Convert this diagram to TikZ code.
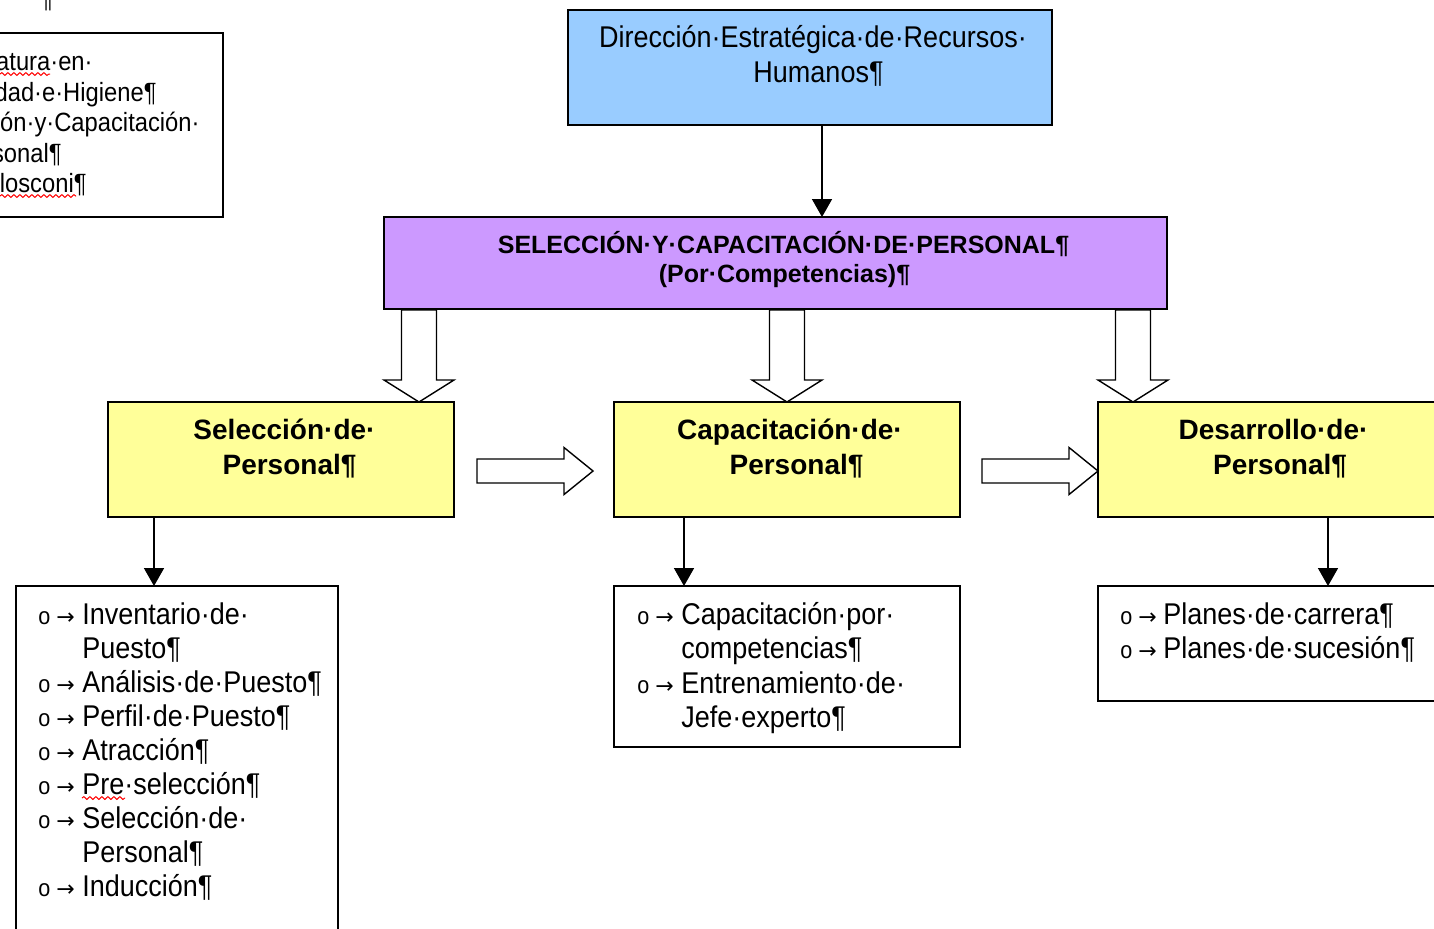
\documentclass[tikz,border=0pt]{standalone}
\usepackage{fontspec}
\setmainfont{Liberation Sans}
\newfontfamily\rf{Liberation Sans}[FakeStretch=0.9]
\newfontfamily\hf{Liberation Sans}
\newfontfamily\af{DejaVu Sans}
\usetikzlibrary{arrows.meta,decorations.pathmorphing}
\definecolor{bluef}{HTML}{99CCFF}
\definecolor{purpf}{HTML}{CC99FF}
\definecolor{yelf}{HTML}{FFFF99}
\tikzset{
  box/.style={draw=black, line width=0.8pt, inner sep=0pt, outer sep=0pt, anchor=north west},
  conn/.style={draw=black, line width=0.8pt, -{Triangle[width=10pt,length=9pt]}},
  blk/.style={draw=black, line width=0.7pt, fill=white, line join=miter},
  tx/.style={inner sep=0pt, font=\rf\fontsize{15}{18}\selectfont},
  smt/.style={inner sep=0pt, font=\rf\fontsize{13.2}{15}\selectfont, anchor=base east},
  hd/.style={inner sep=0pt, anchor=base, font=\hf\bfseries\fontsize{14}{17}\selectfont},
  ph/.style={inner sep=0pt, anchor=base, font=\hf\bfseries\fontsize{12.5}{15}\selectfont},
  bul/.style={inner sep=0pt, anchor=base west, font=\rf\fontsize{12}{14}\selectfont},
  tab/.style={inner sep=0pt, anchor=base west, font=\af\fontsize{11}{13}\selectfont},
  spell/.style={draw=red, line width=0.5pt, decorate, decoration={snake, amplitude=0.7pt, segment length=3pt}},
  downblk/.pic={\path[blk] (-17.5,-92) -- (-17.5,-22) -- (-35,-22) -- (0,0) -- (35,-22) -- (17.5,-22) -- (17.5,-92) -- cycle;},
  rightblk/.pic={\path[blk] (-116,-12) -- (-29,-12) -- (-29,-23.5) -- (0,0) -- (-29,23.5) -- (-29,12) -- (-116,12) -- cycle;}
}
\begin{document}
\begin{tikzpicture}[x=0.5pt,y=-0.5pt]
\useasboundingbox (0,0) rectangle (1434,928);
\clip (0,0) rectangle (1434,928);
\fill[white] (0,0) rectangle (1434,928);

% top-left partial box
\node[box, fill=white, minimum width=121.5pt, minimum height=92pt] (tl) at (-20,33) {};
\node[smt, anchor=south west] (pm) at (40,11) {¶};
\node[smt] (tl1) at (93,70.5) {atura·en·};
\node[smt] (tl2) at (157,101) {dad·e·Higiene¶};
\node[smt] (tl3) at (200,131.5) {ón·y·Capacitación·};
\node[smt] (tl4) at (62,162) {sonal¶};
\node[smt] (tl5) at (87,192.5) {losconi¶};
\draw[spell] (0,74) -- (50,74);
\draw[spell] (0,196) -- (76,196);

% main boxes
\node[box, fill=bluef, minimum width=242pt, minimum height=57.5pt] (dir) at (568,10) {};
\node[box, fill=purpf, minimum width=391.5pt, minimum height=46pt] (scp) at (384,217) {};
\node[box, fill=yelf, minimum width=173pt, minimum height=57.5pt] (y1) at (108,402) {};
\node[box, fill=yelf, minimum width=173pt, minimum height=57.5pt] (y2) at (614,402) {};
\node[box, fill=yelf, minimum width=180pt, minimum height=57.5pt] (y3) at (1098,402) {};
\node[box, fill=white, minimum width=161pt, minimum height=180pt] (l1) at (16,586) {};
\node[box, fill=white, minimum width=173pt, minimum height=80.5pt] (l2) at (614,586) {};
\node[box, fill=white, minimum width=180pt, minimum height=57.5pt] (l3) at (1098,586) {};

% texts
\node[tx, anchor=base] (d1) at (813,47) {Dirección·Estratégica·de·Recursos·};
\node[tx, anchor=base] (d2) at (818.5,82) {Humanos¶};
\node[ph] (s1) at (783.5,253) {SELECCIÓN·Y·CAPACITACIÓN·DE·PERSONAL¶};
\node[ph] (s2) at (784.5,282) {(Por·Competencias)¶};
\node[hd] (a1) at (284.5,439) {Selección·de·};
\node[hd] (a2) at (289.5,474) {Personal¶};
\node[hd] (b1) at (790,439) {Capacitación·de·};
\node[hd] (b2) at (796.5,474) {Personal¶};
\node[hd] (c1) at (1273.5,439) {Desarrollo·de·};
\node[hd] (c2) at (1280,474) {Personal¶};

% block arrows
\pic at ([xshift=155.5pt]y1.north west) {downblk};
\pic at (y2.north) {downblk};
\pic at ([xshift=17.5pt]y3.north west) {downblk};
\pic at ([shift={(-21,11.5)}]y2.west) {rightblk};
\pic at ([shift={(0,11.5)}]y3.west) {rightblk};

% connectors
\coordinate (x0) at (822,0);
\coordinate (x1) at (154,0);
\coordinate (x2) at (684,0);
\coordinate (x3) at (1328,0);
\draw[conn] (dir.south -| x0) -- (scp.north -| x0);
\draw[conn] (y1.south -| x1) -- (l1.north -| x1);
\draw[conn] (y2.south -| x2) -- (l2.north -| x2);
\draw[conn] (y3.south -| x3) -- (l3.north -| x3);

% list 1
\foreach \k/\t in {0/Inventario·de·, 2/Análisis·de·Puesto¶, 3/Perfil·de·Puesto¶, 4/Atracción¶, 5/Pre·selección¶, 6/Selección·de·, 8/Inducción¶}{
  \node[bul] (pa\k) at (38,{624+34*\k}) {o};
  \node[tab] (pb\k) at (56,{624+34*\k}) {→};
  \node[tx, anchor=base west] (pc\k) at (82,{624+34*\k}) {\t};
}
\foreach \k/\t in {1/Puesto¶, 7/Personal¶}{
  \node[tx, anchor=base west] (pc\k) at (82,{624+34*\k}) {\t};
}
\draw[spell] (82,798) -- (125,798);

% list 2
\foreach \k/\t in {0/Capacitación·por·, 2/Entrenamiento·de·}{
  \node[bul] (qa\k) at (637,{624+34.5*\k}) {o};
  \node[tab] (qb\k) at (655,{624+34.5*\k}) {→};
  \node[tx, anchor=base west] (qc\k) at (681,{624+34.5*\k}) {\t};
}
\foreach \k/\t in {1/competencias¶, 3/Jefe·experto¶}{
  \node[tx, anchor=base west] (qc\k) at (681,{624+34.5*\k}) {\t};
}

% list 3
\foreach \k/\t in {0/Planes·de·carrera¶, 1/Planes·de·sucesión¶}{
  \node[bul] (ra\k) at (1120,{624+34*\k}) {o};
  \node[tab] (rb\k) at (1138,{624+34*\k}) {→};
  \node[tx, anchor=base west] (rc\k) at (1163,{624+34*\k}) {\t};
}
\end{tikzpicture}
\end{document}
